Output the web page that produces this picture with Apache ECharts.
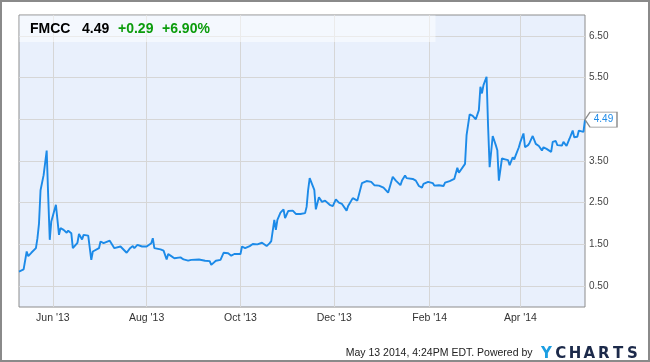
<!DOCTYPE html>
<html><head><meta charset="utf-8">
<script src="https://cdn.jsdelivr.net/npm/echarts@6/dist/echarts.min.js"></script>
<style>html,body{margin:0;padding:0;background:#fff}#c{width:650px;height:362px}</style>
</head><body><div id="c"></div>
<script>
const dates = [
'2013-05-10','2013-05-13','2013-05-15','2013-05-16','2013-05-18','2013-05-21','2013-05-22','2013-05-23','2013-05-24','2013-05-26',
'2013-05-28','2013-05-29','2013-05-30','2013-05-31','2013-06-03','2013-06-05','2013-06-06','2013-06-08','2013-06-10','2013-06-11',
'2013-06-13','2013-06-14','2013-06-17','2013-06-18','2013-06-20','2013-06-21','2013-06-24','2013-06-26','2013-06-27','2013-07-01',
'2013-07-02','2013-07-04','2013-07-08','2013-07-11','2013-07-15','2013-07-19','2013-07-21','2013-07-23','2013-07-24','2013-07-26',
'2013-07-29','2013-08-01','2013-08-04','2013-08-05','2013-08-06','2013-08-10','2013-08-12','2013-08-14','2013-08-15','2013-08-17',
'2013-08-19','2013-08-23','2013-08-25','2013-08-28','2013-08-30','2013-09-04','2013-09-08','2013-09-11','2013-09-12','2013-09-15',
'2013-09-18','2013-09-20','2013-09-23','2013-09-25','2013-09-27','2013-10-01','2013-10-02','2013-10-04','2013-10-07','2013-10-09',
'2013-10-12','2013-10-15','2013-10-18','2013-10-20','2013-10-21','2013-10-23','2013-10-24','2013-10-25','2013-10-27','2013-10-29',
'2013-10-30','2013-11-01','2013-11-04','2013-11-06','2013-11-07','2013-11-09','2013-11-12','2013-11-13','2013-11-14','2013-11-15',
'2013-11-18','2013-11-19','2013-11-21','2013-11-23','2013-11-25','2013-11-28','2013-11-30','2013-12-02','2013-12-04','2013-12-06',
'2013-12-09','2013-12-10','2013-12-11','2013-12-13','2013-12-16','2013-12-17','2013-12-19','2013-12-22','2013-12-25','2013-12-27',
'2013-12-30','2014-01-02','2014-01-05','2014-01-08','2014-01-10','2014-01-13','2014-01-14','2014-01-16','2014-01-17','2014-01-21',
'2014-01-23','2014-01-25','2014-01-27','2014-01-28','2014-01-31','2014-02-03','2014-02-04','2014-02-05','2014-02-07','2014-02-10',
'2014-02-11','2014-02-14','2014-02-17','2014-02-19','2014-02-20','2014-02-21','2014-02-24','2014-02-25','2014-02-27','2014-03-01',
'2014-03-03','2014-03-05','2014-03-06','2014-03-07','2014-03-08','2014-03-10','2014-03-11','2014-03-12','2014-03-14','2014-03-16',
'2014-03-17','2014-03-18','2014-03-20','2014-03-22','2014-03-24','2014-03-25','2014-03-27','2014-03-28','2014-03-29','2014-03-31',
'2014-04-01','2014-04-02','2014-04-03','2014-04-04','2014-04-06','2014-04-07','2014-04-09','2014-04-11','2014-04-13','2014-04-15',
'2014-04-16','2014-04-18','2014-04-21','2014-04-22','2014-04-24','2014-04-25','2014-04-28','2014-04-29','2014-05-01','2014-05-03',
'2014-05-05','2014-05-06','2014-05-08','2014-05-09','2014-05-12','2014-05-13'
];
const prices = [
0.85,0.90,1.33,1.22,1.30,1.41,1.65,2.00,2.80,3.16,
3.75,2.64,1.61,2.05,2.45,1.73,1.89,1.85,1.78,1.83,
1.77,1.41,1.54,1.75,1.62,1.73,1.71,1.13,1.33,1.41,
1.57,1.53,1.59,1.41,1.45,1.30,1.40,1.46,1.41,1.49,
1.45,1.45,1.53,1.65,1.41,1.38,1.35,1.14,1.27,1.22,
1.17,1.19,1.14,1.11,1.13,1.14,1.11,1.10,1.01,1.11,
1.13,1.30,1.29,1.23,1.27,1.27,1.45,1.41,1.46,1.51,
1.50,1.54,1.46,1.53,1.58,2.09,1.85,2.09,2.26,2.34,
2.13,2.30,2.31,2.23,2.26,2.23,2.25,2.40,2.81,3.09,
2.81,2.34,2.63,2.52,2.55,2.45,2.42,2.58,2.50,2.47,
2.31,2.42,2.46,2.61,2.55,2.58,2.97,3.02,3.00,2.92,
2.91,2.86,2.74,3.12,3.03,2.92,3.03,3.15,3.09,3.07,
3.03,2.90,2.86,2.95,3.00,2.97,2.91,2.95,2.92,2.90,
2.98,3.02,3.07,3.34,3.22,3.26,3.43,4.12,4.62,4.58,
4.50,4.72,5.28,5.12,5.32,5.52,4.32,3.35,4.10,3.88,
3.76,3.03,3.56,3.54,3.52,3.40,3.59,3.54,3.64,3.83,
3.96,3.94,4.16,3.83,3.88,3.94,4.10,3.91,3.86,3.75,
3.83,3.79,3.72,3.96,3.98,3.88,3.87,3.96,3.86,4.04,
4.23,4.07,4.08,4.23,4.20,4.49
];
const yTickValues = [0.5, 1.5, 2.5, 3.5, 4.5, 5.5, 6.5];
const xTickDates = ['2013-06-01','2013-08-01','2013-10-01','2013-12-01','2014-02-01','2014-04-01'];
const xTickLabels = ["Jun '13","Aug '13","Oct '13","Dec '13","Feb '14","Apr '14"];
const ticker = 'FMCC';
const lastPrice = '4.49';
const change = '+0.29';
const changePct = '+6.90%';
const footerText = 'May 13 2014, 4:24PM EDT. Powered by';
const logoText = 'YCHARTS';

function parseLocal(s) { const p = s.split('-').map(Number); return new Date(p[0], p[1]-1, p[2]).getTime(); }
const xTickTs = xTickDates.map(parseLocal);
const seriesData = dates.map((d, i) => [parseLocal(d), prices[i]]);
const last = seriesData[seriesData.length - 1];

const FONT = "'Liberation Sans', Arial, sans-serif";
const chart = echarts.init(document.getElementById('c'), null, {renderer: 'canvas'});

const graphics = [
  {type: 'rect', shape: {x: 1, y: 1, width: 648, height: 360}, style: {fill: 'none', stroke: '#8a8a8a', lineWidth: 2}, z: 100, silent: true},
  {type: 'rect', shape: {x: 19.5, y: 15.5, width: 416, height: 26.5}, style: {fill: 'rgba(255,255,255,0.5)'}, z: 100, silent: true},
  {type: 'text', x: 30, y: 29, style: {text: ticker, fill: '#000', font: 'bold 14px ' + FONT, textVerticalAlign: 'middle'}, z: 101},
  {type: 'text', x: 82, y: 29, style: {text: lastPrice, fill: '#000', font: 'bold 14px ' + FONT, textVerticalAlign: 'middle'}, z: 101},
  {type: 'text', x: 118, y: 29, style: {text: change, fill: '#0c9c0c', font: 'bold 14px ' + FONT, textVerticalAlign: 'middle'}, z: 101},
  {type: 'text', x: 162, y: 29, style: {text: changePct, fill: '#0c9c0c', font: 'bold 14px ' + FONT, textVerticalAlign: 'middle'}, z: 101},
  {type: 'text', x: 532.5, y: 353, style: {text: footerText, fill: '#222', font: '10.5px ' + FONT, textAlign: 'right', textVerticalAlign: 'middle'}, z: 101}
];
logoText.split('').forEach((ch, i) => {
  graphics.push({type: 'text', x: 546.5 + i * 14.3, y: 354, style: {text: ch, fill: i === 0 ? '#1b9ee2' : '#1c2a4a', font: "bold 15px 'DejaVu Sans', sans-serif", textAlign: 'center', textVerticalAlign: 'middle'}, z: 101});
});

chart.setOption({
  animation: false,
  grid: {left: 19, right: 65, top: 15, bottom: 55, show: true, backgroundColor: '#e9f0fc', borderColor: '#8c8c8c', borderWidth: 1},
  xAxis: {
    type: 'value', min: parseLocal('2013-05-10'), max: parseLocal('2014-05-13'),
    axisLine: {show: false},
    axisTick: {show: false, customValues: xTickTs},
    axisLabel: {customValues: xTickTs, margin: 6, fontSize: 10.5, fontFamily: FONT, color: '#333',
      formatter: function (v) { const i = xTickTs.indexOf(v); return i >= 0 ? xTickLabels[i] : ''; }},
    splitLine: {show: true, lineStyle: {color: '#d6d6d6', width: 1}}
  },
  yAxis: {
    type: 'value', position: 'right', min: 0, max: 7,
    axisLine: {show: false},
    axisTick: {show: false, customValues: yTickValues},
    axisLabel: {customValues: yTickValues, margin: 4, fontSize: 10, fontFamily: FONT, color: '#444',
      formatter: function (v) { return v.toFixed(2); }},
    splitLine: {show: true, lineStyle: {color: '#d6d6d6', width: 1}}
  },
  series: [{
    type: 'line', data: seriesData, showSymbol: false, symbol: 'none',
    lineStyle: {color: '#1c8ae8', width: 1.9}, silent: true,
    markPoint: {
      silent: true,
      symbol: 'path://M0,7.5 L5,0 L32,0 L32,15 L5,15 Z', symbolSize: [32, 15], symbolOffset: [16, 0],
      itemStyle: {color: '#fff', borderColor: '#8c8c8c', borderWidth: 1},
      label: {show: true, position: 'inside', offset: [2.5, 0], color: '#1c8ae8', fontSize: 10, fontFamily: FONT, formatter: lastPrice},
      data: [{coord: last}]
    }
  }],
  graphic: graphics
});
</script></body></html>
